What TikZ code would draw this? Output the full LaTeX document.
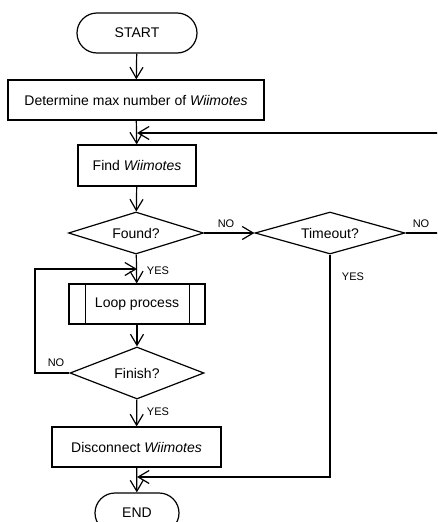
\documentclass[tikz,border=0pt]{standalone}
\usepackage{fontspec}
\setmainfont{Liberation Sans}
\usetikzlibrary{arrows.meta,shapes.geometric,shapes.misc}
\tikzset{%
  box/.style={draw, rectangle, line width=1.2pt, minimum height=40pt, inner sep=0pt,
              font=\fontsize{14}{16}\selectfont},
  term/.style={draw, rounded rectangle, line width=1.2pt, minimum height=40pt, inner sep=0pt,
               font=\fontsize{14}{16}\selectfont},
  test/.style={draw, diamond, aspect=4, line width=1.2pt, inner sep=0pt,
               font=\fontsize{14}{16}\selectfont},
  lbl/.style={font=\fontsize{11}{13}\selectfont, inner sep=0pt},
  flow/.style={line width=1.2pt, -{Straight Barb[length=11pt,width=13pt,line width=1.2pt]}},
}

\begin{document}
\begin{tikzpicture}[x=1pt, y=-1pt]
    \useasboundingbox (0,0) rectangle (437,522);
    \clip (0,0) rectangle (437,522);

    \node[term, minimum width=120pt] (start) at (137,33) {START};
    \node[box, minimum width=256pt] (maxnum) at (136,100) {Determine max number of \textit{Wiimotes}};
    \node[box, minimum width=118pt, minimum height=41pt] (find) at (137,165.5) {Find \textit{Wiimotes}};
    \node[test, minimum width=135pt, minimum height=42pt] (found) at (136,233) {Found?};
    \node[test, minimum width=150pt, minimum height=42pt] (timeout) at (330,233) {Timeout?};
    \node[box, minimum width=136pt] (loop) at (137,304) {Loop process};
    \node[test, minimum width=134pt, minimum height=52pt] (finish) at (137,373) {Finish?};
    \node[box, minimum width=169pt] (disc) at (136.5,447) {Disconnect \textit{Wiimotes}};
    \node[term, minimum width=84pt] (end) at (137,513) {END};

    % predefined process bars
    \draw[line width=1.2pt] ([xshift=17pt]loop.north west) -- ([xshift=17pt]loop.south west);
    \draw[line width=1.2pt] ([xshift=-16pt]loop.north east) -- ([xshift=-16pt]loop.south east);

    % joins on the main line
    \coordinate (retry) at (137,133);
    \coordinate (again) at (137,269);
    \coordinate (done) at (137,477);

    % main flow
    \draw[flow] (start) -- (maxnum);
    \draw[flow] (maxnum) -- (find);
    \draw[flow] (find) -- (found);
    \draw[flow] (found) -- (loop);
    \draw[flow] (loop) -- (finish);
    \draw[flow] (finish) -- (disc);
    \draw[flow] (disc) -- (end);
    \draw[flow] (found) -- (timeout);

    % back edges
    \draw[flow] (timeout.east) -- (450,233) |- (retry);
    \draw[flow] (finish.west) -| (35,269) -- (again);
    \draw[flow] (timeout.south) |- (done);

    % labels
    \node[lbl] (nofound) at (226,224) {NO};
    \node[lbl] (notime) at (421,224) {NO};
    \node[lbl] (yesfound) at (158,271) {YES};
    \node[lbl] (yestime) at (353,277) {YES};
    \node[lbl] (nofinish) at (56,363) {NO};
    \node[lbl] (yesfinish) at (158,412) {YES};
\end{tikzpicture}
\end{document}
